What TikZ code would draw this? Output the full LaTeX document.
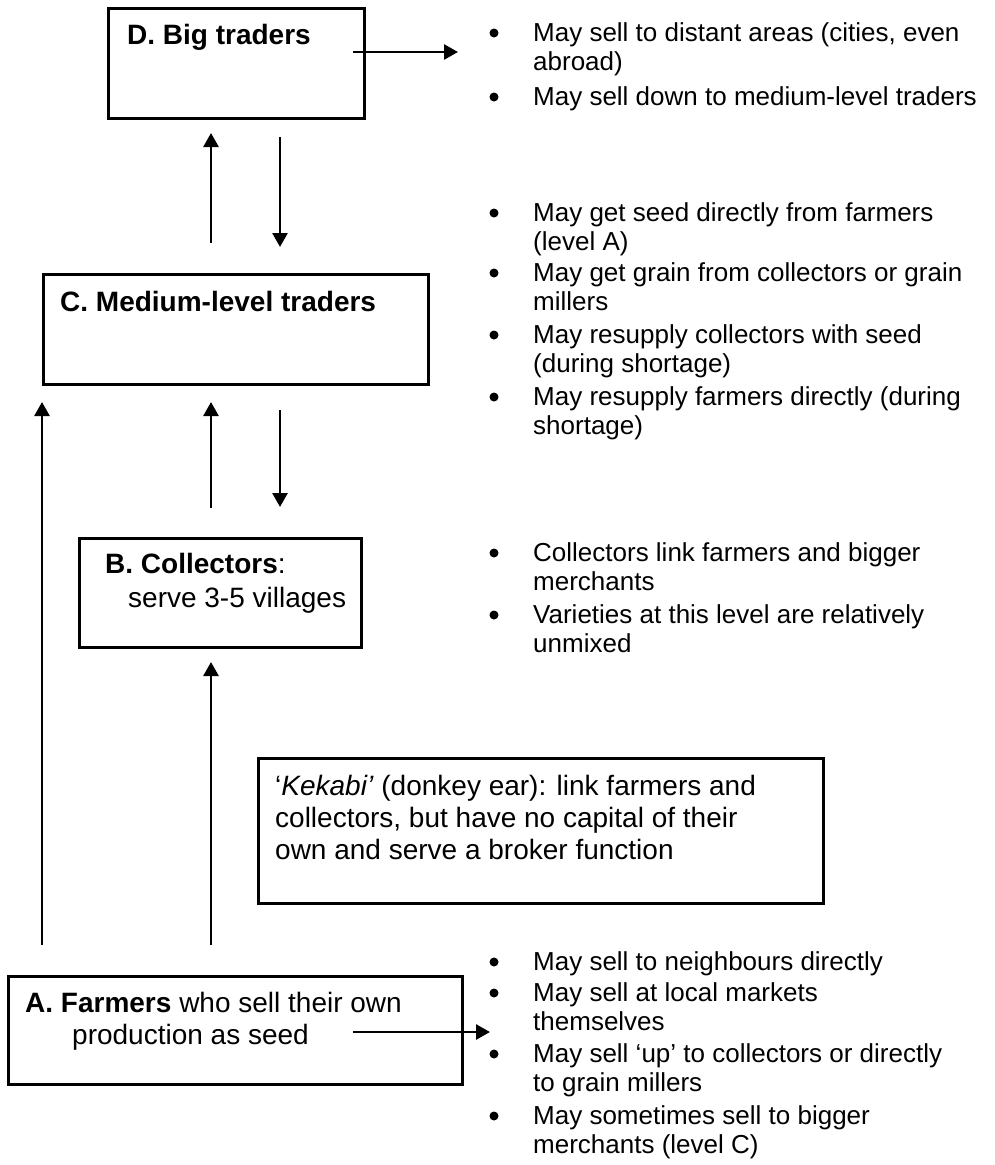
\documentclass[tikz,border=0pt]{standalone}
\usepackage{fontspec}
\setmainfont{Liberation Sans}
\usetikzlibrary{arrows.meta}
\begin{document}
\begin{tikzpicture}[x=1pt,y=-1pt,
  box/.style={draw, line width=2.5pt, anchor=north west, inner sep=0pt},
  ttl/.style={anchor=base west, inner sep=0pt, font=\fontsize{28}{32}\selectfont},
  bt/.style={anchor=base west, inner sep=0pt, font=\fontsize{26}{30}\selectfont},
  arr/.style={line width=2.7pt, -{Triangle[length=14pt,width=15pt]}},
  bul/.style={fill=black}
]
\useasboundingbox (0,0) rectangle (995,1165);

% boxes
\node[box, minimum width=256pt, minimum height=110pt] (D) at (107,7) {};
\node[box, minimum width=385pt, minimum height=110pt] (C) at (42,273) {};
\node[box, minimum width=282pt, minimum height=109pt] (B) at (78,537) {};
\node[box, minimum width=565pt, minimum height=145pt] (K) at (257,757) {};
\node[box, minimum width=454pt, minimum height=108pt] (A) at (7,975) {};

% box texts
\node[ttl] (Dt) at (127,44) {\textbf{D. Big traders}};
\node[ttl] (Ct) at (60,311) {\textbf{C. Medium-level traders}};
\node[ttl] (Bt1) at (105,573) {\textbf{B. Collectors}:};
\node[ttl] (Bt2) at (128,607) {serve 3-5 villages};
\node[ttl] (Kt1) at (275,795) {‘\textit{Kekabi’} (donkey ear): link farmers and};
\node[ttl] (Kt2) at (275,827) {collectors, but have no capital of their};
\node[ttl] (Kt3) at (275,859) {own and serve a broker function};
\node[ttl] (At1) at (25,1012) {\textbf{A. Farmers} who sell their own};
\node[ttl] (At2) at (72,1044) {production as seed};

% arrow end points
\coordinate (d1) at (353,52);   \coordinate (d2) at (458,52);
\coordinate (u1s) at (211,243); \coordinate (u1e) at (211,133);
\coordinate (w1s) at (280,137); \coordinate (w1e) at (280,247);
\coordinate (u2s) at (211,508); \coordinate (u2e) at (211,402);
\coordinate (w2s) at (280,410); \coordinate (w2e) at (280,507);
\coordinate (ls) at (42,945);   \coordinate (le) at (42,402);
\coordinate (u3s) at (211,945); \coordinate (u3e) at (211,662);
\coordinate (a1) at (353,1032); \coordinate (a2) at (490,1032);

\draw[arr] (d1) -- (d2);
\draw[arr] (u1s) -- (u1e);
\draw[arr] (w1s) -- (w1e);
\draw[arr] (u2s) -- (u2e);
\draw[arr] (w2s) -- (w2e);
\draw[arr] (ls) -- (le);
\draw[arr] (u3s) -- (u3e);
\draw[arr] (a1) -- (a2);

% bullets D
\fill[bul] (494,33) circle (4.5);
\node[bt] at (533,41) {May sell to distant areas (cities, even};
\node[bt] at (533,70) {abroad)};
\fill[bul] (494,97) circle (4.5);
\node[bt] at (533,105) {May sell down to medium-level traders};

% bullets C
\fill[bul] (494,213) circle (4.5);
\node[bt] at (533,221) {May get seed directly from farmers};
\node[bt] at (533,250) {(level A)};
\fill[bul] (494,273) circle (4.5);
\node[bt] at (533,281) {May get grain from collectors or grain};
\node[bt] at (533,310) {millers};
\fill[bul] (494,335) circle (4.5);
\node[bt] at (533,343) {May resupply collectors with seed};
\node[bt] at (533,372) {(during shortage)};
\fill[bul] (494,397) circle (4.5);
\node[bt] at (533,405) {May resupply farmers directly (during};
\node[bt] at (533,434) {shortage)};

% bullets B
\fill[bul] (494,553) circle (4.5);
\node[bt] at (533,561) {Collectors link farmers and bigger};
\node[bt] at (533,590) {merchants};
\fill[bul] (494,615) circle (4.5);
\node[bt] at (533,623) {Varieties at this level are relatively};
\node[bt] at (533,652) {unmixed};

% bullets A
\fill[bul] (494,962) circle (4.5);
\node[bt] at (533,970) {May sell to neighbours directly};
\fill[bul] (494,993) circle (4.5);
\node[bt] at (533,1001) {May sell at local markets};
\node[bt] at (533,1030) {themselves};
\fill[bul] (494,1054) circle (4.5);
\node[bt] at (533,1062) {May sell ‘up’ to collectors or directly};
\node[bt] at (533,1091) {to grain millers};
\fill[bul] (494,1116) circle (4.5);
\node[bt] at (533,1124) {May sometimes sell to bigger};
\node[bt] at (533,1153) {merchants (level C)};
\end{tikzpicture}
\end{document}
